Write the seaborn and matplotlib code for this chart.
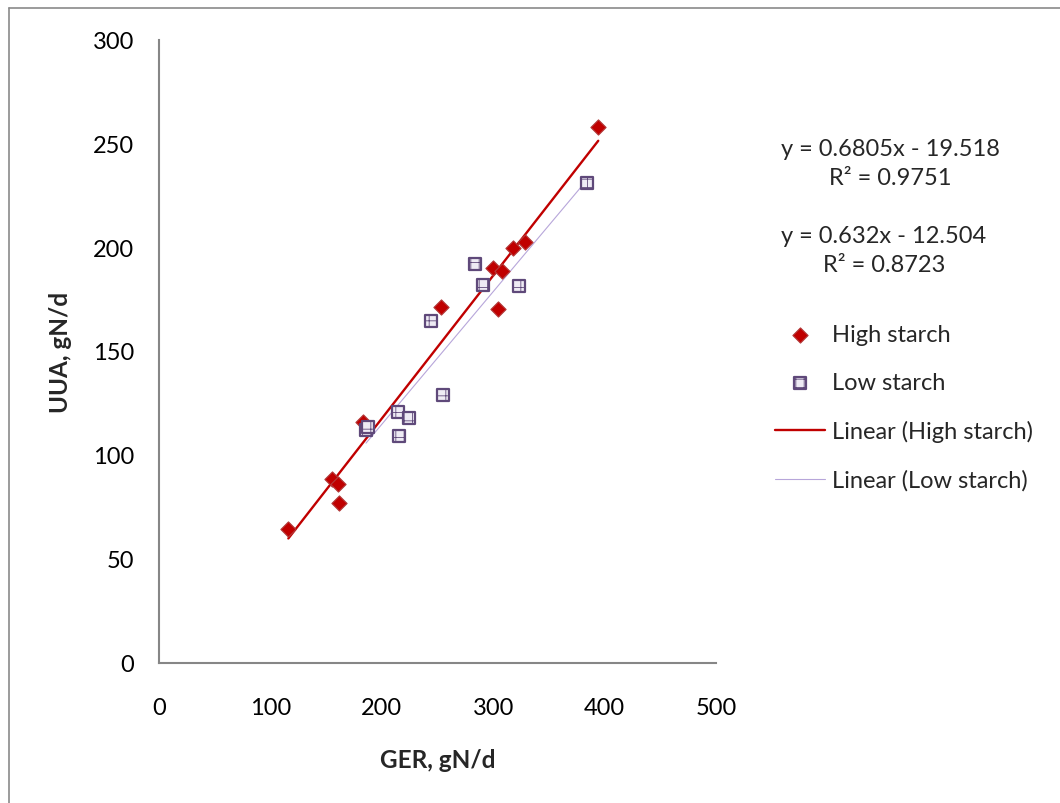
import matplotlib
matplotlib.use("Agg")
import matplotlib.pyplot as plt
from matplotlib.lines import Line2D
import seaborn as sns
import pandas as pd
import numpy as np

# ---- data ----
high_ger = [116.1, 155.3, 160.4, 161.8, 182.9, 253.4, 300.1, 307.6, 304.6, 317.5, 328.8, 394.3]
high_uua = [64.3, 88.2, 85.9, 76.9, 115.6, 171.3, 190.1, 188.5, 170.1, 199.7, 202.6, 257.8]
low_ger = [384.5, 283.7, 291.1, 322.9, 243.9, 255.2, 214.8, 224.7, 215.7, 185.8, 187.9]
low_uua = [230.7, 191.7, 181.9, 181.4, 164.6, 128.8, 120.5, 117.7, 108.9, 112.1, 113.2]

series_names = ["High starch", "Low starch"]
trend_names = ["Linear (High starch)", "Linear (Low starch)"]
equations = ["y = 0.6805x - 19.518\nR\u00b2 = 0.9751", "y = 0.632x - 12.504\nR\u00b2 = 0.8723"]
x_ticks = [0, 100, 200, 300, 400, 500]
y_ticks = [0, 50, 100, 150, 200, 250, 300]
x_label = "GER, gN/d"
y_label = "UUA, gN/d"

high_df = pd.DataFrame({"GER": high_ger, "UUA": high_uua})
low_df = pd.DataFrame({"GER": low_ger, "UUA": low_uua})

sns.set_theme(style="white")
plt.rcParams["font.family"] = ["Lato", "DejaVu Sans"]
plt.rcParams["hatch.linewidth"] = 0.6

FS = 17
fig = plt.figure(figsize=(10.6, 8.04), dpi=100)
ax = fig.add_axes([159 / 1060, 1 - 663.5 / 804, 557 / 1060, 623 / 804])

# trend lines
sns.regplot(data=high_df, x="GER", y="UUA", scatter=False, ci=None, truncate=True,
            ax=ax, line_kws=dict(color="#C00000", lw=1.7, zorder=2))
sns.regplot(data=low_df, x="GER", y="UUA", scatter=False, ci=None, truncate=True,
            ax=ax, line_kws=dict(color="#B7A6DA", lw=0.8, zorder=2))
line_high, line_low = ax.lines[0], ax.lines[1]

# points
sns.scatterplot(data=high_df, x="GER", y="UUA", ax=ax, marker="D", s=60,
                color="#C00000", edgecolor="#B23B3B", linewidth=0.8, zorder=3)
pts_high = ax.collections[-1]
sns.scatterplot(data=low_df, x="GER", y="UUA", ax=ax, marker="s", s=75,
                facecolor="#EEEBF4", edgecolor="#5F497A", linewidth=1.6,
                hatch="++", zorder=3)
pts_low = ax.collections[-1]

ax.set_xlim(0, 500)
ax.set_ylim(0, 300)
ax.set_xticks(x_ticks)
ax.set_yticks(y_ticks)
ax.tick_params(axis="both", length=0, labelsize=FS, colors="black")
ax.tick_params(axis="y", pad=18)
ax.tick_params(axis="x", pad=25)
for s in ["top", "right"]:
    ax.spines[s].set_visible(False)
for s in ["left", "bottom"]:
    ax.spines[s].set_color("#868686")
    ax.spines[s].set_linewidth(1.5)

ax.set_xlabel(x_label, fontsize=FS + 0.5, fontweight="bold", va="center")
ax.set_ylabel(y_label, fontsize=FS + 0.5, fontweight="bold", va="center")
ax.xaxis.set_label_coords(0.5, (663.5 - 761) / 623)
ax.yaxis.set_label_coords((61 - 159) / 557, 0.5)

ax.legend([pts_high, pts_low, line_high, line_low],
          series_names + trend_names,
          loc="upper left", bbox_to_anchor=(775 / 1060, 1 - 325.5 / 804),
          bbox_transform=fig.transFigure, frameon=False, fontsize=FS,
          borderpad=0, borderaxespad=0, handlelength=2.1, handletextpad=0.3,
          labelspacing=1.14, scatterpoints=1)

fig.text(890 / 1060, 1 - 164 / 804, equations[0], ha="center", va="center",
         fontsize=FS, linespacing=1.5)
fig.text(884 / 1060, 1 - 251 / 804, equations[1], ha="center", va="center",
         fontsize=FS, linespacing=1.5)

# outer chart border (partially visible)
fig.add_artist(Line2D([8.5 / 1060, 8.5 / 1060], [0, 1 - 8.5 / 804],
                      transform=fig.transFigure, color="#8a8a8a", lw=1.2))
fig.add_artist(Line2D([8.5 / 1060, 1], [1 - 8.5 / 804, 1 - 8.5 / 804],
                      transform=fig.transFigure, color="#8a8a8a", lw=1.2))

fig.savefig("out.png", dpi=100)
